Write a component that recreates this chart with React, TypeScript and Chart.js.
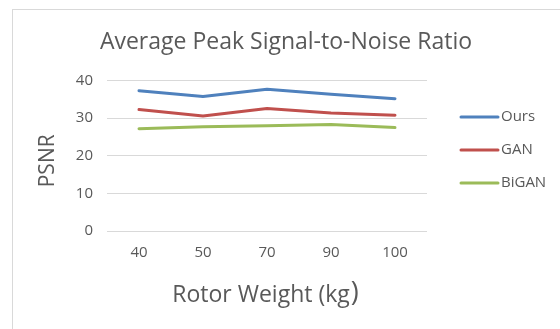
import React, { useEffect, useRef } from "react";
import { Chart, registerables } from "chart.js";

Chart.register(...registerables);

const categories = ["40", "50", "70", "90", "100"];
const oursValues = [37.3, 35.8, 37.7, 36.4, 35.2];
const ganValues = [32.3, 30.6, 32.6, 31.4, 30.8];
const biganValues = [27.2, 27.7, 28.0, 28.3, 27.5];
const yTicks = [0, 10, 20, 30, 40];
const xTitleMain = "Rotor Weight (kg";
const xTitleClose = ")";
const yTitle = "PSNR";

const FONT = "'Open Sans', sans-serif";
const TEXT = "#595959";

const decorations = {
  id: "decorations",
  beforeDraw(chart: any) {
    const ctx = chart.ctx;
    ctx.save();
    ctx.fillStyle = "#ffffff";
    ctx.fillRect(0, 0, chart.width, chart.height);
    ctx.strokeStyle = "#d9d9d9";
    ctx.lineWidth = 1;
    ctx.strokeRect(12.5, 9.5, 700, 500);
    ctx.restore();
  },
  afterDraw(chart: any) {
    const ctx = chart.ctx;
    const area = chart.chartArea;
    ctx.save();
    // legend
    const startY = 117;
    const step = 33;
    chart.data.datasets.forEach((ds: any, i: number) => {
      const y = startY + i * step;
      ctx.strokeStyle = ds.borderColor;
      ctx.lineWidth = 3;
      ctx.lineCap = "round";
      ctx.beginPath();
      ctx.moveTo(461, y);
      ctx.lineTo(498, y);
      ctx.stroke();
      ctx.fillStyle = TEXT;
      ctx.font = `15px ${FONT}`;
      ctx.textBaseline = "middle";
      ctx.textAlign = "left";
      ctx.fillText(ds.label, 501, y);
    });
    // x axis title
    ctx.fillStyle = TEXT;
    ctx.textBaseline = "alphabetic";
    ctx.textAlign = "left";
    ctx.font = `23px ${FONT}`;
    const w1 = ctx.measureText(xTitleMain).width;
    ctx.font = `27px ${FONT}`;
    const w2 = ctx.measureText(xTitleClose).width;
    const cx = (area.left + area.right) / 2 - 2;
    const x0 = cx - (w1 + w2) / 2;
    ctx.font = `23px ${FONT}`;
    ctx.fillText(xTitleMain, x0, 302);
    ctx.font = `27px ${FONT}`;
    ctx.fillText(xTitleClose, x0 + w1 + 1, 301);
    // y axis title
    ctx.translate(48, (area.top + area.bottom) / 2 + 5);
    ctx.rotate(-Math.PI / 2);
    ctx.font = `21px ${FONT}`;
    ctx.textAlign = "center";
    ctx.textBaseline = "middle";
    ctx.fillText(yTitle, 0, 0);
    ctx.restore();
  },
};

export default function App() {
  const ref = useRef<HTMLCanvasElement | null>(null);
  useEffect(() => {
    document.body.style.margin = "0";
    const canvas = ref.current!;
    const chart = new Chart(canvas, {
      type: "line",
      data: {
        labels: categories,
        datasets: [
          { label: "Ours", data: oursValues, borderColor: "#4F81BD", backgroundColor: "#4F81BD", yAxisID: "y" },
          { label: "GAN", data: ganValues, borderColor: "#C0504D", backgroundColor: "#C0504D", yAxisID: "y" },
          { label: "BiGAN", data: biganValues, borderColor: "#9BBB59", backgroundColor: "#9BBB59", yAxisID: "y" },
        ],
      },
      options: {
        responsive: false,
        animation: false,
        layout: { padding: { left: 12, right: 0, top: 0, bottom: 0 } },
        elements: {
          line: { borderWidth: 3, tension: 0, borderCapStyle: "round", borderJoinStyle: "round" },
          point: { radius: 0, hoverRadius: 0 },
        },
        plugins: {
          legend: { display: false },
          tooltip: { enabled: false },
          title: {
            display: true,
            text: "Average Peak Signal-to-Noise Ratio",
            color: TEXT,
            font: { family: FONT, size: 23, weight: "normal", lineHeight: 1.2 },
            padding: { top: 29, bottom: 24 },
            align: "center",
          },
        },
        scales: {
          x: {
            offset: true,
            grid: { display: false, drawTicks: false },
            border: { display: false },
            ticks: { color: TEXT, font: { family: FONT, size: 15 }, padding: 13 },
            afterFit: (s: any) => {
              s.height = 98;
            },
          },
          y: {
            min: 0,
            max: 40,
            afterBuildTicks: (s: any) => {
              s.ticks = yTicks.map((v) => ({ value: v }));
            },
            grid: { color: "#d9d9d9", lineWidth: 1, drawTicks: false },
            border: { display: false },
            ticks: { color: TEXT, font: { family: FONT, size: 15 }, padding: 14 },
            afterFit: (s: any) => {
              s.width = 95;
            },
          },
          yRightSpace: {
            type: "linear",
            position: "right",
            display: true,
            grid: { display: false, drawTicks: false },
            border: { display: false },
            ticks: { display: false },
            afterFit: (s: any) => {
              s.width = 133;
            },
          },
        },
      },
      plugins: [decorations],
    });
    return () => chart.destroy();
  }, []);
  return <canvas ref={ref} width={560} height={329} style={{ display: "block" }} />;
}
